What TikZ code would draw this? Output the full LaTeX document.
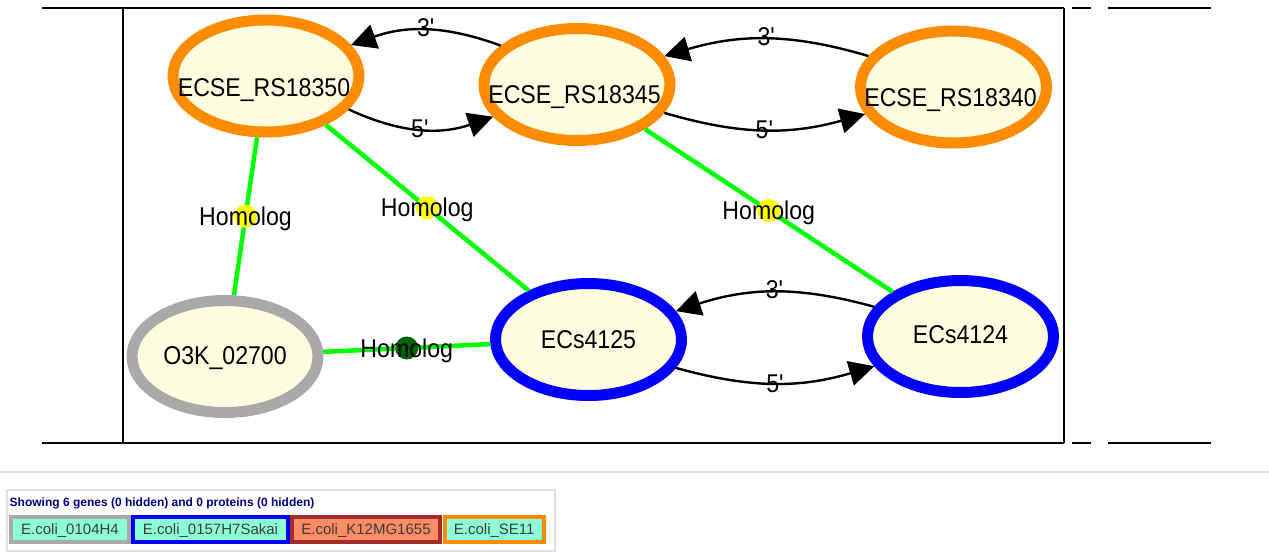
\documentclass[tikz,border=0pt]{standalone}
\usepackage{fontspec}
\setmainfont{Liberation Sans}
\newfontfamily\gfont[FakeStretch=0.9]{Liberation Sans}
\usetikzlibrary{shapes.geometric,arrows.meta}
\definecolor{gorange}{RGB}{255,140,0}
\definecolor{gblue}{RGB}{0,0,255}
\definecolor{ggray}{RGB}{169,169,169}
\definecolor{gfill}{RGB}{255,253,224}
\definecolor{hgreen}{RGB}{0,255,0}
\definecolor{hyellow}{RGB}{255,255,0}
\definecolor{hdark}{RGB}{0,100,0}
\definecolor{aqua}{RGB}{140,255,214}
\definecolor{coral}{RGB}{255,140,100}
\definecolor{brownb}{RGB}{165,42,42}
\definecolor{navyt}{RGB}{0,0,128}
\definecolor{sepc}{RGB}{224,224,224}
\definecolor{ltext}{RGB}{60,60,60}
\newcommand\glab[3]{\makebox[0pt]{\kern#1\raisebox{#2}[0pt][0pt]{#3}\kern-#1}}
\begin{document}
\begin{tikzpicture}[x=1pt,y=1pt,
 gene/.style={ellipse, draw=#1, line width=11pt, fill=gfill, minimum width=186pt, minimum height=112pt, inner sep=0pt, font=\gfont\fontsize{25.7}{30}\selectfont},
 homolog/.style={draw=hgreen, line width=4.5pt},
 hdot/.style={circle, fill=#1, minimum size=23pt, inner sep=0pt},
 hlab/.style={inner sep=0pt, text height=18pt, text depth=0pt, font=\gfont\fontsize{25.7}{30}\selectfont},
 adj/.style={draw=black, line width=2.4pt, -{Triangle[length=25pt,width=25pt]}},
 elab/.style={inner sep=0pt, text height=18pt, text depth=0pt, font=\gfont\fontsize{25.7}{30}\selectfont},
 frame/.style={draw=black, line width=1.3pt},
 legitem/.style={draw=#1, line width=4pt, minimum height=25pt, inner sep=0pt, text height=10.7pt, text depth=0pt, text=ltext, font=\fontsize{15}{18}\selectfont},
]
\useasboundingbox (0,0) rectangle (1269,-555);

% frame
\draw[frame] (42,-8) -- (1064,-8);
\draw[frame] (42,-443) -- (1064,-443);
\draw[frame] (123,-8) -- (123,-443);
\draw[frame] (1064,-8) -- (1064,-443);
\draw[frame] (1072,-8) -- (1091,-8);
\draw[frame] (1108,-8) -- (1211,-8);
\draw[frame] (1072,-443) -- (1091,-443);
\draw[frame] (1108,-443) -- (1211,-443);

% genes
\node[gene=gorange] (A) at (266,-76) {\glab{-2pt}{-20.5pt}{ECSE\_RS18350}};
\node[gene=gorange] (B) at (577,-84.5) {\glab{-2.5pt}{-19pt}{ECSE\_RS18345}};
\node[gene=gorange] (C) at (953.5,-87) {\glab{-3pt}{-19.5pt}{ECSE\_RS18340}};
\node[gene=gblue] (D) at (960.5,-336.5) {\glab{0pt}{-7pt}{ECs4124}};
\node[gene=gblue] (E) at (588.5,-339.5) {\glab{0pt}{-9pt}{ECs4125}};
\node[gene=ggray] (F) at (225,-356.5) {\glab{0pt}{-7.5pt}{O3K\_02700}};

% homolog edges
\draw[homolog] (A) -- node[midway, hdot=hyellow] (h1) {} node[midway, hlab] (h1t) {Homolog} (F);
\draw[homolog] (A) -- node[midway, hdot=hyellow] (h2) {} node[midway, hlab] (h2t) {Homolog} (E);
\draw[homolog] (B) -- node[midway, hdot=hyellow] (h3) {} node[midway, hlab] (h3t) {Homolog} (D);
\draw[homolog] (F) -- node[midway, hdot=hdark] (h4) {} node[midway, hlab] (h4t) {Homolog} (E);

% adjacency edges
\draw[adj] (B.153) to[bend right=20] node[midway, elab, yshift=3pt] (l1) {3\textquotesingle} (A.20);
\draw[adj] (A.-22.5) to[bend right=22] node[midway, elab] (l2) {5\textquotesingle} (B.201.7);
\draw[adj] (C.160.5) to[bend right=16.5] node[midway, elab, yshift=3pt] (l3) {3\textquotesingle} (B.18.2);
\draw[adj] (B.-18.5) to[bend right=16] node[midway, elab] (l4) {5\textquotesingle} (C.197);
\draw[adj] (D.161.2) to[bend right=16.7] node[midway, elab, yshift=3pt] (l5) {3\textquotesingle} (E.18.5);
\draw[adj] (E.-18.4) to[bend right=16] node[midway, elab] (l6) {5\textquotesingle} (D.199);

% separator
\draw[draw=sepc, line width=1.5pt] (0,-472) -- (1269,-472);

% legend
\draw[draw=sepc, line width=2pt, fill=white] (7,-490) rectangle (555,-551);
\node[anchor=base west, inner sep=0pt, text=navyt, font=\bfseries\fontsize{12}{14}\selectfont] (head) at (9.5,-506.7) {Showing 6 genes (0 hidden) and 0 proteins (0 hidden)};
\node[legitem=ggray, fill=aqua, minimum width=118pt] (k1) at (70,-529.5) {E.coli\_0104H4};
\node[legitem=gblue, fill=aqua, minimum width=155pt] (k2) at (210.5,-529.5) {E.coli\_0157H7Sakai};
\node[legitem=brownb, fill=coral, minimum width=148pt] (k3) at (366,-529.5) {E.coli\_K12MG1655};
\node[legitem=gorange, fill=aqua, minimum width=99.5pt] (k4) at (494.25,-529.5) {E.coli\_SE11};
\end{tikzpicture}
\end{document}
